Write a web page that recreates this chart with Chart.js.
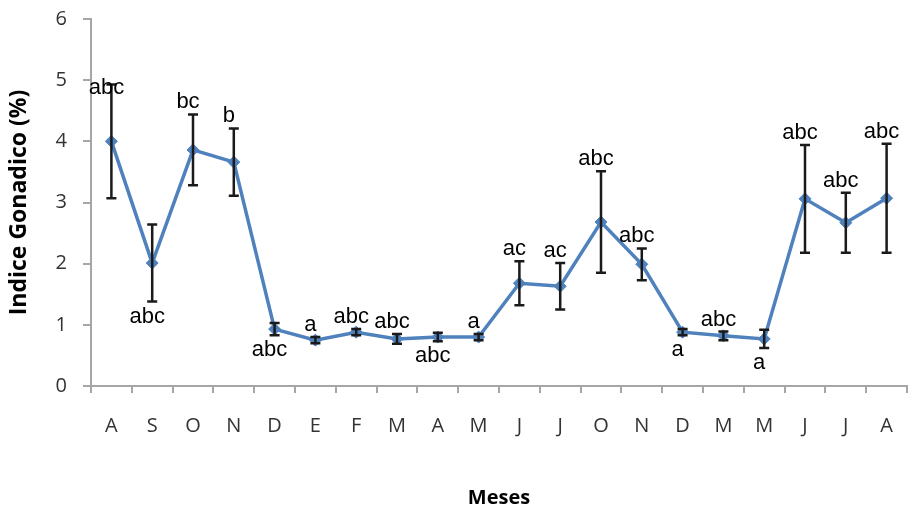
<!DOCTYPE html>
<html>
<head>
<meta charset="utf-8">
<script src="https://cdn.jsdelivr.net/npm/chart.js@4.4.0/dist/chart.umd.min.js"></script>
<style>
  html, body { margin: 0; padding: 0; background: #fff; }
  #wrap { width: 922px; height: 514px; position: relative; }
</style>
</head>
<body>
<div id="wrap"><canvas id="chart"></canvas></div>
<script>
// --- datos ---
const meses = ['A', 'S', 'O', 'N', 'D', 'E', 'F', 'M', 'A', 'M', 'J', 'J', 'O', 'N', 'D', 'M', 'M', 'J', 'J', 'A'];
const indice = [4.00, 2.01, 3.86, 3.66, 0.93, 0.75, 0.88, 0.77, 0.80, 0.80, 1.68, 1.63, 2.68, 1.99, 0.88, 0.82, 0.77, 3.06, 2.67, 3.07];
const error = [0.93, 0.63, 0.58, 0.55, 0.10, 0.05, 0.05, 0.08, 0.07, 0.05, 0.36, 0.38, 0.83, 0.26, 0.05, 0.07, 0.15, 0.88, 0.49, 0.89];
const letras = ['abc', 'abc', 'bc', 'b', 'abc', 'a', 'abc', 'abc', 'abc', 'a', 'ac', 'ac', 'abc', 'abc', 'a', 'abc', 'a', 'abc', 'abc', 'abc'];
// donde va la letra respecto a la barra de error
const lado = ['cap', 'below', 'above', 'above', 'below', 'above', 'above', 'above', 'below', 'above', 'above', 'above', 'above', 'above', 'below', 'above', 'below', 'above', 'above', 'above'];
const yTicks = [0, 1, 2, 3, 4, 5, 6];

const tickFont = { family: '"Open Sans", sans-serif', size: 20 };

// barras de error (negras con tope)
const errorBars = {
    id: 'errorBars',
    afterDatasetsDraw(chart) {
        const ctx = chart.ctx;
        const x = chart.scales.x, y = chart.scales.y;
        ctx.save();
        ctx.strokeStyle = '#1a1a1a';
        ctx.lineWidth = 2.5;
        indice.forEach((v, i) => {
            const px = x.getPixelForValue(i);
            const top = y.getPixelForValue(v + error[i]);
            const bot = y.getPixelForValue(v - error[i]);
            ctx.beginPath();
            ctx.moveTo(px, top); ctx.lineTo(px, bot);
            ctx.moveTo(px - 5, top); ctx.lineTo(px + 5, top);
            ctx.moveTo(px - 5, bot); ctx.lineTo(px + 5, bot);
            ctx.stroke();
        });
        ctx.restore();
    }
};

// letras de significancia
const letterLabels = {
    id: 'letterLabels',
    afterDraw(chart) {
        const ctx = chart.ctx;
        const x = chart.scales.x, y = chart.scales.y;
        ctx.save();
        ctx.font = '22px "Liberation Sans", Arial, sans-serif';
        ctx.fillStyle = '#000';
        ctx.textAlign = 'center';
        ctx.textBaseline = 'alphabetic';
        letras.forEach((t, i) => {
            const px = x.getPixelForValue(i);
            let py;
            if (lado[i] === 'below') py = y.getPixelForValue(indice[i] - error[i]) + 21;
            else if (lado[i] === 'cap') py = y.getPixelForValue(indice[i] + error[i]) + 10;
            else py = y.getPixelForValue(indice[i] + error[i]) - 6;
            ctx.fillText(t, px - 5, py);
        });
        ctx.restore();
    }
};

new Chart(document.getElementById('chart'), {
    type: 'line',
    data: {
        labels: meses,
        datasets: [{
            data: indice,
            borderColor: '#4F81BD',
            backgroundColor: '#4F81BD',
            borderWidth: 3.5,
            pointStyle: 'rectRot',
            pointRadius: 6,
            pointBorderWidth: 1,
            tension: 0
        }]
    },
    options: {
        responsive: true,
        maintainAspectRatio: false,
        animation: false,
        layout: { padding: { top: 19, right: 15, left: 0, bottom: 0 } },
        plugins: { legend: { display: false }, tooltip: { enabled: false } },
        scales: {
            x: {
                offset: true,
                grid: { offset: true, drawOnChartArea: false, color: '#a6a6a6', lineWidth: 2, tickLength: 7 },
                border: { color: '#a6a6a6', width: 2 },
                ticks: { color: '#333', font: tickFont, padding: 21, autoSkip: false, maxRotation: 0 },
                title: { display: true, text: 'Meses', color: '#000', font: { family: '"Open Sans", sans-serif', size: 20, weight: 'bold' }, padding: { top: 37 } },
                afterFit: (s) => { s.height = 128; }
            },
            y: {
                min: 0,
                max: 6,
                afterBuildTicks: (s) => { s.ticks = yTicks.map(v => ({ value: v })); },
                grid: { drawOnChartArea: false, color: '#a6a6a6', lineWidth: 2, tickLength: 8 },
                border: { color: '#a6a6a6', width: 2 },
                ticks: { color: '#333', font: tickFont, padding: 16 },
                title: { display: true, text: 'Indice Gonadico (%)', color: '#000', font: { family: '"Open Sans", sans-serif', size: 23, weight: 'bold' }, padding: { top: 6, bottom: 0 } },
                afterFit: (s) => { s.width = 91; s.paddingTop = 0; s.paddingBottom = 0; }
            }
        }
    },
    plugins: [errorBars, letterLabels]
});
</script>
</body>
</html>
